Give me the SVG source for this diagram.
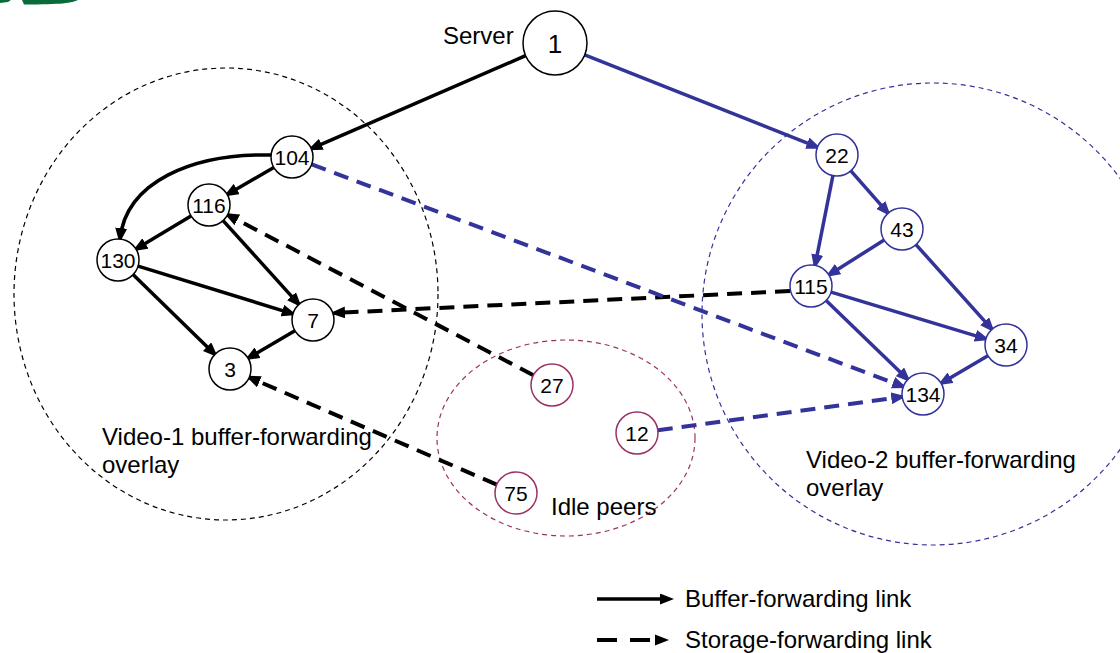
<svg xmlns="http://www.w3.org/2000/svg" width="1120" height="653" viewBox="0 0 1120 653">
  <style>
    .lbl { font-family: "Liberation Sans", Arial, sans-serif; font-size: 24px; fill: #000; }
    .num { font-family: "Liberation Sans", Arial, sans-serif; font-size: 21px; fill: #000; text-anchor: middle; }
    .node { fill: #fff; stroke-width: 1.5; }
    .k { stroke: #000; }
    .b { stroke: #333399; }
    .p { stroke: #993366; }
    .edge { fill: none; stroke-width: 3.5; }
    .ek { stroke: #000; marker-end: url(#arrK); }
    .eb { stroke: #333399; marker-end: url(#arrB); }
    .dash { stroke-dasharray: 15 9; stroke-width: 4; }
    .zone { fill: none; stroke-width: 1.2; stroke-dasharray: 5 4; }
  </style>
  <defs>
    <marker id="arrK" viewBox="0 0 15 12" refX="11" refY="6" markerWidth="15" markerHeight="12" markerUnits="userSpaceOnUse" orient="auto">
      <path d="M0,0 L15,6 L0,12 Z" fill="#000"/>
    </marker>
    <marker id="arrB" viewBox="0 0 15 12" refX="11" refY="6" markerWidth="15" markerHeight="12" markerUnits="userSpaceOnUse" orient="auto">
      <path d="M0,0 L15,6 L0,12 Z" fill="#333399"/>
    </marker>
    <marker id="arrL" viewBox="0 0 14 11" refX="0" refY="5.5" markerWidth="14" markerHeight="11" markerUnits="userSpaceOnUse" orient="auto">
      <path d="M0,0 L14,5.5 L0,11 Z" fill="#000"/>
    </marker>
  </defs>

  <!-- corner logo fragment -->
  <g id="logo" fill="#0a6b3a">
    <path d="M0,0 L11,0 L8,2 L0,3 Z"/>
    <path d="M22,0 L78,0 C72,3 62,4.5 24,4.5 Z"/>
  </g>

  <!-- overlay regions -->
  <g id="zones">
    <ellipse class="zone" cx="226" cy="294" rx="212" ry="226" stroke="#000"/>
    <circle class="zone" cx="933" cy="314" r="231" stroke="#333399"/>
    <ellipse class="zone" cx="566" cy="438" rx="129" ry="98" stroke="#993366"/>
  </g>

  <!-- links -->
  <g id="connectors">
    <!-- buffer-forwarding, video 1 -->
    <line class="edge ek" x1="525.6" y1="55.7" x2="311.3" y2="148.6"/>
    <line class="edge ek" x1="273.8" y1="167.5" x2="227.2" y2="194.5"/>
    <path class="edge ek" d="M272,155 C192,153 126,182 120,239"/>
    <line class="edge ek" x1="191" y1="215.9" x2="136" y2="249.1"/>
    <line class="edge ek" x1="223.1" y1="220.6" x2="298.9" y2="304.4"/>
    <line class="edge ek" x1="138.1" y1="266.2" x2="292.9" y2="313.8"/>
    <line class="edge ek" x1="133" y1="274.6" x2="215" y2="354.4"/>
    <line class="edge ek" x1="294.9" y1="330.7" x2="248.1" y2="358.3"/>
    <!-- buffer-forwarding, video 2 -->
    <line class="edge eb" x1="584.7" y1="54.8" x2="817.5" y2="147.2"/>
    <line class="edge eb" x1="832.9" y1="175.6" x2="815.1" y2="265.4"/>
    <line class="edge eb" x1="850.9" y1="170.8" x2="888.1" y2="213.2"/>
    <line class="edge eb" x1="884.2" y1="240.1" x2="828.8" y2="274.9"/>
    <line class="edge eb" x1="916" y1="244.6" x2="992" y2="329.4"/>
    <line class="edge eb" x1="831.1" y1="292.1" x2="985.9" y2="338.9"/>
    <line class="edge eb" x1="826.1" y1="300.6" x2="907.9" y2="379.4"/>
    <line class="edge eb" x1="987.9" y1="355.7" x2="941.1" y2="383.3"/>
    <!-- storage-forwarding -->
    <line class="edge ek dash" x1="533.4" y1="375.2" x2="227.6" y2="214.8"/>
    <line class="edge ek dash" x1="496.7" y1="484.6" x2="249.3" y2="377.4"/>
    <line class="edge ek dash" x1="790" y1="291" x2="334" y2="313"/>
    <line class="edge eb dash" x1="311.7" y1="164.4" x2="903.3" y2="386.6"/>
    <line class="edge eb dash" x1="657.8" y1="430.2" x2="902.2" y2="396.8"/>
  </g>

  <!-- peers -->
  <g id="n1"><circle class="node k" cx="555" cy="43" r="32"/><text class="num" x="555" y="52.5" style="font-size:26px">1</text></g>
  <g id="n104"><circle class="node k" cx="292" cy="157" r="21"/><text class="num" x="292" y="164.5">104</text></g>
  <g id="n116"><circle class="node k" cx="209" cy="205" r="21"/><text class="num" x="209" y="212.5">116</text></g>
  <g id="n130"><circle class="node k" cx="118" cy="260" r="21"/><text class="num" x="118" y="267.5">130</text></g>
  <g id="n7"><circle class="node k" cx="313" cy="320" r="21"/><text class="num" x="313" y="327.5">7</text></g>
  <g id="n3"><circle class="node k" cx="230" cy="369" r="21"/><text class="num" x="230" y="376.5">3</text></g>
  <g id="n22"><circle class="node b" cx="837" cy="155" r="21"/><text class="num" x="837" y="162.5">22</text></g>
  <g id="n43"><circle class="node b" cx="902" cy="229" r="21"/><text class="num" x="902" y="236.5">43</text></g>
  <g id="n115"><circle class="node b" cx="811" cy="286" r="21"/><text class="num" x="811" y="293.5">115</text></g>
  <g id="n34"><circle class="node b" cx="1006" cy="345" r="21"/><text class="num" x="1006" y="352.5">34</text></g>
  <g id="n134"><circle class="node b" cx="923" cy="394" r="21"/><text class="num" x="923" y="401.5">134</text></g>
  <g id="n27"><circle class="node p" cx="552" cy="385" r="21"/><text class="num" x="552" y="392.5">27</text></g>
  <g id="n12"><circle class="node p" cx="637" cy="433" r="21"/><text class="num" x="637" y="440.5">12</text></g>
  <g id="n75"><circle class="node p" cx="516" cy="493" r="21"/><text class="num" x="516" y="500.5">75</text></g>

  <!-- labels -->
  <g id="labels">
    <text class="lbl" x="443" y="44">Server</text>
    <text class="lbl" x="102" y="445">Video-1 buffer-forwarding</text>
    <text class="lbl" x="102" y="473">overlay</text>
    <text class="lbl" x="806" y="468">Video-2 buffer-forwarding</text>
    <text class="lbl" x="806" y="496">overlay</text>
    <text class="lbl" x="551" y="515">Idle peers</text>
  </g>

  <!-- key -->
  <g id="legend">
    <line x1="597" y1="599" x2="660" y2="599" stroke="#000" stroke-width="3.5" marker-end="url(#arrL)"/>
    <text class="lbl" x="685" y="607">Buffer-forwarding link</text>
    <line x1="597" y1="640" x2="617" y2="640" stroke="#000" stroke-width="4"/>
    <line x1="630" y1="640" x2="650" y2="640" stroke="#000" stroke-width="4"/>
    <path d="M655,634.5 L669,640 L655,645.5 Z" fill="#000"/>
    <text class="lbl" x="685" y="648">Storage-forwarding link</text>
  </g>
</svg>
